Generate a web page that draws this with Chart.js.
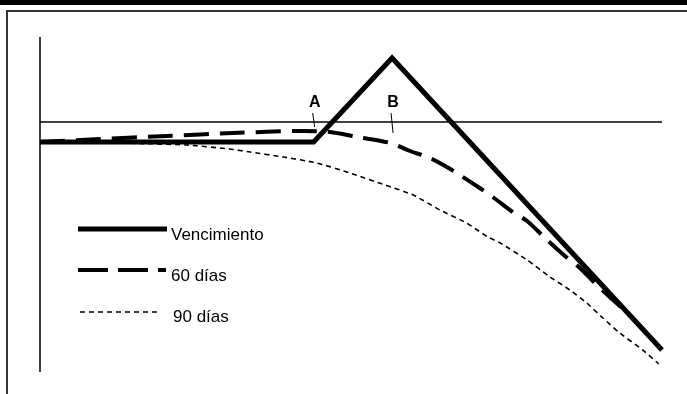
<!DOCTYPE html>
<html>
<head>
<meta charset="utf-8">
<script src="https://cdn.jsdelivr.net/npm/chart.js@4/dist/chart.umd.min.js"></script>
<style>
  html, body { margin: 0; padding: 0; background: #fff; }
  #wrap { position: relative; width: 687px; height: 394px; overflow: hidden; }
  #band { position: absolute; left: 0; top: 0; width: 687px; height: 5px; background: #000; }
  #frame { position: absolute; left: 6px; top: 10px; width: 700px; height: 400px;
           border-top: 2px solid #333; border-left: 2px solid #333; }
  canvas { position: absolute; left: 0; top: 0; }
</style>
</head>
<body>
<div id="wrap">
  <div id="band"></div>
  <div id="frame"></div>
  <canvas id="c" width="687" height="394"></canvas>
</div>
<script>
// Series names
const seriesNames = ["Vencimiento", "60 días", "90 días"];

// Vencimiento (solid)
const vencX = [0, 44, 56.6, 100];
const vencY = [-4, -4, 12.8, -45.6];

// 60 días (dashed)
const d60X = [0, 9.6, 20.4, 31, 41.8, 46.6, 51, 56.3, 59.5, 62.7, 65.4, 67.5, 70.7, 72.8, 76, 78.3, 81.2, 84.4, 86.8, 89.2, 91.6, 94.9, 99.7];
const d60Y = [-4, -3.4, -2.8, -2.2, -1.8, -2, -3, -4.2, -5.8, -7.2, -9, -10.6, -13.2, -15, -18, -19.8, -23.2, -26.8, -29.2, -32.2, -35, -38.8, -45.2];

// 90 días (dotted)
const d90X = [0, 12.9, 23.5, 30.5, 33.8, 39.1, 44.5, 49.8, 55.5, 60, 64.3, 68.6, 72, 74, 78.3, 82, 85.2, 87.9, 90.5, 93.2, 96.9, 99.5];
const d90Y = [-4, -4.2, -4.6, -5.4, -6, -7, -8.2, -10.2, -12.6, -14.6, -17.6, -20.2, -23, -24.2, -27.6, -31, -33.6, -36.2, -39.2, -42.2, -45.6, -48.4];

// Point labels A and B
const markLabels = ["A", "B"];
const markX = [44, 56.6];

const pts = (xs, ys) => xs.map((x, i) => ({ x: x, y: ys[i] }));

const styles = [
  { width: 5, dash: [] },
  { width: 4, dash: [25, 11] },
  { width: 1.6, dash: [5, 4] }
];

const overlay = {
  id: 'overlay',
  beforeDatasetsDraw(chart) {
    const { ctx, scales: { x, y } } = chart;
    ctx.save();
    ctx.strokeStyle = '#000';
    ctx.lineWidth = 1.5;
    ctx.beginPath();
    ctx.moveTo(x.getPixelForValue(0), y.getPixelForValue(17));
    ctx.lineTo(x.getPixelForValue(0), y.getPixelForValue(-50));
    ctx.stroke();
    ctx.beginPath();
    ctx.moveTo(x.getPixelForValue(0), y.getPixelForValue(0));
    ctx.lineTo(x.getPixelForValue(100), y.getPixelForValue(0));
    ctx.stroke();
    ctx.restore();
  },
  afterDatasetsDraw(chart) {
    const { ctx, scales: { x, y } } = chart;
    ctx.save();
    // A / B labels with ticks
    ctx.fillStyle = '#000';
    ctx.strokeStyle = '#000';
    ctx.lineWidth = 1;
    ctx.font = 'bold 16px "Liberation Sans", Arial, sans-serif';
    ctx.textAlign = 'center';
    ctx.textBaseline = 'alphabetic';
    const tickEnds = [-1, -2.2];
    markLabels.forEach((t, i) => {
      const px = x.getPixelForValue(markX[i]);
      ctx.fillText(t, px + 1, y.getPixelForValue(3));
      ctx.beginPath();
      ctx.moveTo(px - 1, y.getPixelForValue(1.8));
      ctx.lineTo(px + 1, y.getPixelForValue(tickEnds[i]));
      ctx.stroke();
    });
    // Legend
    const lx0 = chart.chartArea.left + 38, lx1 = chart.chartArea.left + 127;
    const rowY = [229, 270, 312];
    const textY = [240, 281, 322];
    const textX = [171, 171, 173];
    const lineEnds = [lx1, lx1 - 1, lx1 - 7];
    const lineStarts = [lx0, lx0, lx0 + 2];
    ctx.textAlign = 'left';
    ctx.font = '17px "Liberation Sans", Arial, sans-serif';
    seriesNames.forEach((name, i) => {
      ctx.beginPath();
      ctx.lineWidth = styles[i].width;
      ctx.setLineDash(i === 1 ? [30, 10] : styles[i].dash);
      ctx.lineCap = 'butt';
      ctx.moveTo(lineStarts[i], rowY[i]);
      ctx.lineTo(lineEnds[i], rowY[i]);
      ctx.stroke();
      ctx.setLineDash([]);
      ctx.fillText(name, textX[i], textY[i]);
    });
    ctx.restore();
  }
};

new Chart(document.getElementById('c'), {
  type: 'line',
  data: {
    datasets: [
      { label: seriesNames[0], data: pts(vencX, vencY), borderColor: '#000', borderWidth: styles[0].width,
        borderDash: styles[0].dash, borderJoinStyle: 'miter', pointRadius: 0, tension: 0, fill: false },
      { label: seriesNames[1], data: pts(d60X, d60Y), borderColor: '#000', borderWidth: styles[1].width,
        borderDash: styles[1].dash, pointRadius: 0, tension: 0.3, fill: false },
      { label: seriesNames[2], data: pts(d90X, d90Y), borderColor: '#000', borderWidth: styles[2].width,
        borderDash: styles[2].dash, pointRadius: 0, tension: 0.2, fill: false }
    ]
  },
  options: {
    responsive: false,
    animation: false,
    devicePixelRatio: 1,
    clip: false,
    layout: { padding: { left: 40, right: 25, top: 37, bottom: 22 } },
    scales: {
      x: { type: 'linear', min: 0, max: 100, display: false },
      y: { type: 'linear', min: -50, max: 17, display: false }
    },
    plugins: { legend: { display: false }, tooltip: { enabled: false } }
  },
  plugins: [overlay]
});
</script>
</body>
</html>
